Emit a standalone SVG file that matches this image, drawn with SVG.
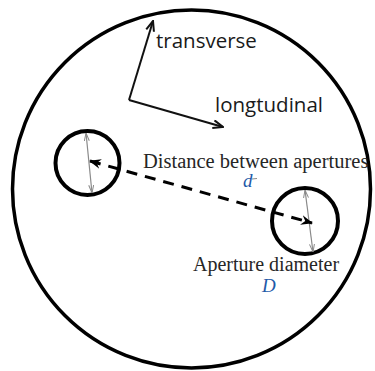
<svg xmlns="http://www.w3.org/2000/svg" width="375" height="371" viewBox="0 0 375 371">
<style>
.outer{fill:none;stroke:#000;stroke-width:3.5}
.ap{fill:none;stroke:#000;stroke-width:4}
.axis{stroke:#111;stroke-width:2;fill:none}
.dia{stroke:#8a8a8a;stroke-width:1.2;fill:none}
.dist{stroke:#000;stroke-width:3;stroke-dasharray:11 8;fill:none}
.sans{font-family:"Open Sans","DejaVu Sans",sans-serif;font-size:20.5px;fill:#1a1a1a}
.serif{font-family:"Liberation Serif","Times New Roman",serif;font-size:20.5px;fill:#262626}
.sym{font-family:"Liberation Serif","Times New Roman",serif;font-style:italic;font-size:19px;fill:#1f5aa8}
</style>
<defs>
<marker id="ax" markerUnits="userSpaceOnUse" viewBox="0 0 12 10" refX="11" refY="5" markerWidth="12" markerHeight="10" orient="auto"><path d="M1,1 L11,5 L1,9" fill="none" stroke="#111" stroke-width="2"/></marker>
<marker id="dh" markerUnits="userSpaceOnUse" viewBox="0 0 8 6" refX="8" refY="3" markerWidth="8" markerHeight="6" orient="auto-start-reverse"><path d="M0,0.5 L8,3 L0,5.5" fill="none" stroke="#8a8a8a" stroke-width="1"/></marker>
<marker id="da" markerUnits="userSpaceOnUse" viewBox="0 0 12 10" refX="11" refY="5" markerWidth="12" markerHeight="10" orient="auto-start-reverse"><path d="M0,0 L12,5 L0,10 L4,5 z" fill="#000"/></marker>
</defs>
<g id="plate"><circle class="outer" cx="191.5" cy="189" r="179"/></g>
<g id="aperture-left"><circle class="ap" cx="87.5" cy="163" r="32"/></g>
<g id="aperture-right"><circle class="ap" cx="305" cy="221" r="33"/></g>
<g id="connectors">
<line class="axis" x1="129" y1="100" x2="153" y2="21" marker-end="url(#ax)"/>
<line class="axis" x1="129" y1="100" x2="223" y2="127" marker-end="url(#ax)"/>
<line class="dia" x1="86" y1="133" x2="92" y2="193" marker-start="url(#dh)" marker-end="url(#dh)"/>
<line class="dia" x1="305" y1="190" x2="313" y2="252" marker-start="url(#dh)" marker-end="url(#dh)"/>
<line class="dist" x1="90" y1="161" x2="312" y2="223" marker-start="url(#da)" marker-end="url(#da)"/>
</g>
<g id="labels">
<text class="sans" x="156" y="48">transverse</text>
<text class="sans" x="215" y="112">longtudinal</text>
<text class="serif" x="143" y="168">Distance between apertures</text>
<text class="sym" x="243" y="187">d</text>
<line x1="252" y1="179" x2="257" y2="178.5" stroke="#888" stroke-width="1"/>
<text class="serif" x="193" y="271" style="font-size:20px">Aperture diameter</text>
<text class="sym" x="262" y="292">D</text>
</g>
</svg>
